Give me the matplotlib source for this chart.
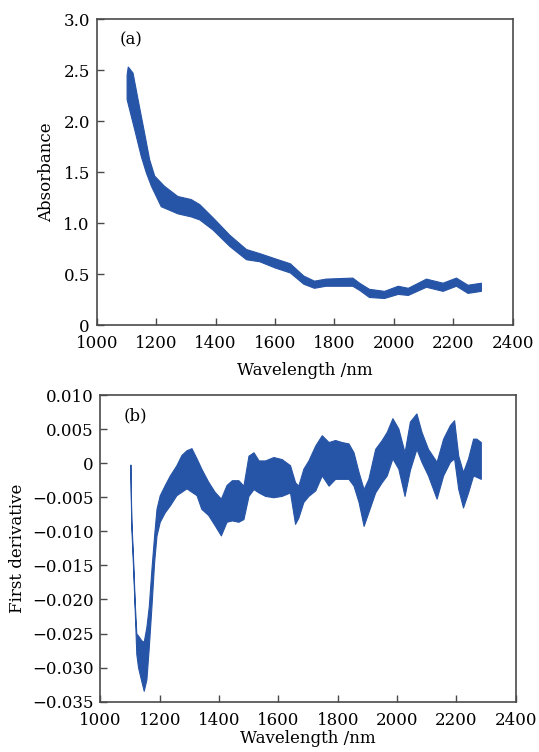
import matplotlib
matplotlib.use('Agg')
import matplotlib.pyplot as plt

#### DATA ####

# (a) absorbance band: upper and lower edge of the bundle of spectra
wl_a_hi = [1102, 1106, 1122, 1139, 1161, 1178, 1195, 1228, 1273, 1318, 1347,
           1392, 1448, 1504, 1549, 1600, 1652, 1697, 1733, 1772, 1862, 1885,
           1918, 1969, 2015, 2049, 2110, 2166, 2211, 2250, 2295]
abs_hi = [2.45, 2.53, 2.47, 2.21, 1.88, 1.62, 1.46, 1.36, 1.26, 1.23, 1.18,
          1.05, 0.88, 0.74, 0.70, 0.65, 0.60, 0.48, 0.43, 0.45, 0.46, 0.41,
          0.35, 0.33, 0.38, 0.36, 0.45, 0.41, 0.46, 0.39, 0.41]
wl_a_lo = [1102, 1128, 1150, 1167, 1184, 1217, 1273, 1318, 1347, 1392, 1448,
           1504, 1549, 1600, 1652, 1697, 1733, 1772, 1862, 1885, 1918, 1969,
           2015, 2049, 2110, 2166, 2211, 2250, 2295]
abs_lo = [2.21, 1.91, 1.65, 1.49, 1.36, 1.16, 1.09, 1.06, 1.03, 0.93, 0.77,
          0.64, 0.62, 0.56, 0.51, 0.40, 0.36, 0.38, 0.38, 0.34, 0.27, 0.26,
          0.30, 0.29, 0.37, 0.33, 0.38, 0.31, 0.33]

# (b) first derivative band
wl_b = [1101, 1104, 1110, 1116, 1121, 1127, 1138, 1146, 1155, 1163, 1172,
        1181, 1189, 1200, 1217, 1234, 1256, 1273, 1290, 1307, 1324, 1340,
        1363, 1385, 1406, 1425, 1443, 1465, 1482, 1499, 1516, 1533, 1555,
        1583, 1611, 1639, 1656, 1667, 1684, 1701, 1724, 1746, 1769, 1791,
        1813, 1836, 1853, 1870, 1887, 1903, 1926, 1948, 1965, 1984, 2004,
        2025, 2043, 2065, 2082, 2104, 2133, 2155, 2178, 2192, 2206, 2222,
        2239, 2256, 2267, 2282]
der_hi = [-0.0002, -0.0080, -0.0140, -0.0208, -0.0250, -0.0253, -0.0260,
          -0.0262, -0.0240, -0.0210, -0.0155, -0.0106, -0.0067, -0.0047,
          -0.0032, -0.0018, -0.0003, 0.0012, 0.0019, 0.0022, 0.0007, -0.0008,
          -0.0027, -0.0042, -0.0052, -0.0032, -0.0025, -0.0025, -0.0033,
          0.0011, 0.0016, 0.0004, 0.0004, 0.0009, 0.0006, -0.0003, -0.0028,
          -0.0033, -0.0008, 0.0004, 0.0026, 0.0041, 0.0031, 0.0034, 0.0031,
          0.0029, 0.0016, -0.0013, -0.0038, -0.0023, 0.0021, 0.0034, 0.0046,
          0.0066, 0.0051, 0.0016, 0.0061, 0.0073, 0.0046, 0.0021, 0.0002,
          0.0036, 0.0056, 0.0063, 0.0011, -0.0013, 0.0007, 0.0036, 0.0036,
          0.0031]
der_lo = [-0.0008, -0.0092, -0.0152, -0.0220, -0.0280, -0.0300, -0.0320,
          -0.0334, -0.0317, -0.0270, -0.0210, -0.0145, -0.0106, -0.0086,
          -0.0072, -0.0062, -0.0047, -0.0042, -0.0037, -0.0042, -0.0047,
          -0.0067, -0.0076, -0.0091, -0.0106, -0.0086, -0.0084, -0.0086,
          -0.0082, -0.0048, -0.0038, -0.0043, -0.0048, -0.0050, -0.0048,
          -0.0043, -0.0089, -0.0080, -0.0057, -0.0048, -0.0040, -0.0018,
          -0.0033, -0.0023, -0.0023, -0.0023, -0.0033, -0.0057, -0.0092,
          -0.0072, -0.0043, -0.0028, -0.0018, 0.0007, -0.0008, -0.0048,
          -0.0010, 0.0021, 0.0002, -0.0018, -0.0052, -0.0018, 0.0002, 0.0007,
          -0.0038, -0.0065, -0.0043, -0.0018, -0.0020, -0.0023]

xticks = [1000, 1200, 1400, 1600, 1800, 2000, 2200, 2400]
yticks_a = [0, 0.5, 1.0, 1.5, 2.0, 2.5, 3.0]
ylabels_a = ['0', '0.5', '1.0', '1.5', '2.0', '2.5', '3.0']
yticks_b = [0.010, 0.005, 0, -0.005, -0.010, -0.015, -0.020, -0.025, -0.030, -0.035]
ylabels_b = ['0.010', '0.005', '0', '\u22120.005', '\u22120.010', '\u22120.015',
             '\u22120.020', '\u22120.025', '\u22120.030', '\u22120.035']

#### PLOT ####

plt.rcParams['font.family'] = ['DejaVu Serif']
fs = 12
c = '#2654a6'
spc = '#4a4a4a'

fig = plt.figure(figsize=(5.39, 7.52), dpi=100)
ax1 = fig.add_axes([0.1796, 0.5678, 0.7714, 0.4069])
ax2 = fig.add_axes([0.1863, 0.0669, 0.7707, 0.4078])

ax1.fill(wl_a_hi + wl_a_lo[::-1], abs_hi + abs_lo[::-1], color=c, lw=0.8)
ax2.fill_between(wl_b, der_lo, der_hi, color=c, lw=0.8, edgecolor=c)

def prettyax(ax, yticks, ylabels, ylim, ylabel, tag, ylpad, xlpad):
    ax.set_xlim(1000, 2400)
    ax.set_ylim(*ylim)
    ax.set_xticks(xticks)
    ax.set_yticks(yticks)
    ax.set_yticklabels(ylabels)
    ax.tick_params(direction='in', length=5, width=1, color=spc,
                   labelsize=fs, top=False, right=False)
    ax.tick_params(axis='x', pad=7.5)
    ax.tick_params(axis='y', pad=5)
    for s in ax.spines.values():
        s.set_color(spc)
        s.set_linewidth(1.2)
    ax.set_xlabel('Wavelength /nm', fontsize=fs, labelpad=xlpad)
    ax.set_ylabel(ylabel, fontsize=fs, labelpad=ylpad)
    ax.text(0.055, 0.96, tag, transform=ax.transAxes, fontsize=fs,
            va='top', ha='left')

prettyax(ax1, yticks_a, ylabels_a, (0, 3.0), 'Absorbance', '(a)', 6, 7)
prettyax(ax2, yticks_b, ylabels_b, (-0.035, 0.010), 'First derivative', '(b)', 4, 1)

fig.savefig('out.png', dpi=100)
